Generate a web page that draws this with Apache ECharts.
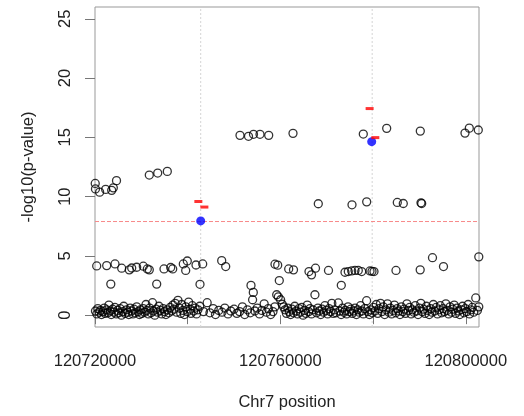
<!DOCTYPE html>
<html><head><meta charset="utf-8">
<script src="https://cdn.jsdelivr.net/npm/echarts@6/dist/echarts.min.js"></script>
<style>html,body{margin:0;padding:0;background:#fff}#c{width:524px;height:416px}</style>
</head><body><div id="c"></div>
<script>
// ---- data ----
const xTicks = [120720000, 120740000, 120760000, 120780000, 120800000];
const xTickLabels = [120720000, 120760000, 120800000];
const yTicks = [0, 5, 10, 15, 20, 25];
const snpPositions = [120742805, 120779800];
const thresholdLine = 7.9;

// upper cluster (positions, -log10 p)
const upperPos = [120720050,120720100,120721000,120722300,120723600,120723950,120724640,
  120731715,120733530,120735600,
  120751284,120753118,120754196,120755600,120757477,120762720,
  120777886,120782934,120790184,120799828,120800755,120802697,
  120768177,120775448,120778618,120785221,120786515,120790334,120790485];
const upperVal = [11.11,10.65,10.38,10.61,10.53,10.74,11.35,
  11.82,11.99,12.13,
  15.17,15.09,15.26,15.26,15.17,15.34,
  15.28,15.76,15.53,15.36,15.78,15.62,
  9.40,9.31,9.56,9.51,9.42,9.48,9.42];

// middle band (~4) and ~2.5 row
const midPos = [120720367,120722524,120724315,120725760,120727400,120727918,120728997,120730421,
  120731284,120731715,120734887,120736332,120736764,120739051,120739914,120739568,120741791,
  120743236,120747336,120748199,120758835,120759418,120761791,120762826,120766170,120766710,
  120767573,120770378,120773938,120774650,120775383,120776095,120776807,120777541,120779331,
  120779763,120780194,120784940,120790161,120792815,120795188,120802804,
  120723409,120733312,120742654,120753657,120754153,120759763,120773140];
const midVal = [4.15,4.18,4.32,3.96,3.82,3.98,4.04,4.13,
  3.90,3.82,3.90,4.02,3.90,4.32,4.57,3.77,4.23,
  4.32,4.60,4.10,4.30,4.22,3.90,3.82,3.68,3.40,
  3.96,3.77,3.62,3.68,3.73,3.77,3.77,3.68,3.73,
  3.70,3.68,3.77,3.82,4.85,4.10,4.92,
  2.62,2.62,2.60,2.51,1.92,2.92,2.52];

// bottom dense band
const lowPos = [120720100,120720400,120720600,120720900,120721200,120721400,120721700,120722000,120722200,120722500,
  120722800,120723000,120723300,120723500,120723800,120724100,120724300,120724600,120724900,120725100,
  120725400,120725700,120726000,120726200,120726500,120726800,120727100,120727300,120727600,120727900,
  120728200,120728400,120728700,120729000,120729300,120729600,120729800,120730100,120730400,120730700,
  120731000,120731200,120731500,120731800,120732100,120732400,120732600,120732900,120733200,120733500,
  120733800,120734100,120734400,120734700,120735000,120735300,120735600,120735900,120736200,120736500,
  120736800,120737000,120737300,120737600,120737900,120738200,120738500,120738700,120739000,120739300,
  120739600,120739900,120740200,120740500,120740700,120741000,120741300,120741600,120741900,120742200,
  120742600,120743400,120744200,120744800,120745500,120746000,120746700,120747400,120748000,120748700,
  120749300,120750000,120750600,120751200,120751800,120752300,120752900,120753500,120754000,120754500,
  120755000,120755500,120756000,120756500,120757000,120757400,120757900,120758400,120758800,120759200,
  120759550,120760050,120760400,120760700,120761000,120761300,120761600,120761900,120762200,120762500,
  120762800,120763100,120763400,120763700,120764000,120764300,120764600,120764900,120765200,120765500,
  120765800,120766100,120766400,120766700,120767000,120767450,120767800,120768100,120768400,120768700,
  120769000,120769300,120769600,120769900,120770200,120770500,120770800,120771100,120771400,120771700,
  120772000,120772500,120772800,120773100,120773400,120773700,120774000,120774300,120774600,120774900,
  120775200,120775500,120775800,120776100,120776400,120776700,120777000,120777300,120777600,120777900,
  120778200,120778600,120778900,120779200,120779500,120779800,120780100,120780400,120780700,120781000,
  120781300,120781600,120781900,120782200,120782500,120782800,120783100,120783400,120783700,120784000,
  120784300,120784600,120784900,120785200,120785500,120785800,120786100,120786400,120786700,120787000,
  120787300,120787600,120787900,120788200,120788500,120788800,120789100,120789400,120789700,120790000,
  120790300,120790600,120790900,120791200,120791500,120791800,120792100,120792400,120792700,120793000,
  120793300,120793600,120793900,120794200,120794500,120794800,120795100,120795400,120795700,120796000,
  120796300,120796600,120796900,120797200,120797500,120797800,120798100,120798400,120798700,120799000,
  120799300,120799600,120799900,120800200,120800500,120800800,120801100,120801400,120801700,120802150,
  120802500,120802800];
const lowVal = [0.35,0.10,0.55,0.25,0.40,0.05,0.30,0.60,0.15,0.45,
  0.20,0.85,0.35,0.05,0.50,0.25,0.65,0.10,0.40,0.20,
  0.55,0.00,0.30,0.75,0.15,0.45,0.25,0.05,0.60,0.35,
  0.10,0.50,0.20,0.70,0.30,0.05,0.45,0.15,0.55,0.25,
  0.90,0.40,0.10,0.60,0.20,1.05,0.35,0.00,0.50,0.25,
  0.75,0.40,0.10,0.55,0.30,0.05,0.45,0.20,0.65,0.35,
  0.85,0.50,1.00,0.25,1.25,0.60,0.15,0.90,0.40,0.05,
  0.70,0.30,1.10,0.50,0.15,0.80,0.35,0.60,0.10,0.45,
  0.75,0.30,1.05,0.20,0.55,0.05,0.40,0.25,0.60,0.10,
  0.35,0.50,0.15,0.30,0.70,0.05,0.45,0.20,1.30,0.35,
  0.60,0.10,0.40,0.95,0.25,0.55,0.05,0.30,0.70,1.72,
  1.55,1.30,0.92,0.70,0.45,0.15,0.60,0.30,0.05,0.50,
  0.20,0.75,0.35,0.10,0.55,0.25,0.65,0.00,0.40,0.15,
  0.85,0.30,0.55,0.10,0.45,1.72,0.20,0.60,0.35,0.05,
  0.50,0.25,0.80,0.40,0.10,0.55,0.30,1.00,0.15,0.45,
  0.20,1.03,0.35,0.05,0.60,0.25,0.40,0.10,0.70,0.30,
  0.50,0.15,0.35,0.60,0.05,0.45,0.25,0.80,0.35,0.10,
  0.55,1.22,0.30,0.05,0.45,0.20,0.65,0.35,0.90,0.15,
  0.55,1.00,0.30,0.70,0.05,0.45,0.95,0.25,0.60,0.10,
  0.40,0.85,0.20,0.55,0.35,0.05,0.70,0.30,0.50,0.15,
  0.95,0.40,0.65,0.10,0.45,0.25,0.80,0.35,0.05,0.60,
  1.00,0.30,0.50,0.15,0.75,0.40,0.05,0.55,0.25,0.90,
  0.35,0.65,0.10,0.45,0.80,0.20,0.55,0.30,0.95,0.40,
  0.10,0.70,0.25,0.50,0.85,0.15,0.60,0.35,0.05,0.45,
  0.75,0.20,0.55,0.30,0.90,0.10,0.45,0.65,0.25,1.45,
  0.40,0.70];

// highlighted SNPs (blue) and red markers
const bluePos = [120742805, 120779700];
const blueVal = [7.95, 14.64];
const redPos = [120742300, 120743600, 120779250, 120780480];
const redVal = [9.59, 9.12, 17.43, 14.98];

// ---- chart ----
const Y_MIN = -1, Y_MAX = 26, X_MIN = 120720000, X_MAX = 120802850;
const zip = (a, b) => a.map((v, i) => [v, b[i]]);
const font = 'Liberation Sans, Arial, sans-serif';
const openCircle = {
  type: 'scatter', symbol: 'circle', symbolSize: 8, clip: true, silent: true,
  itemStyle: { color: 'rgba(0,0,0,0)', borderColor: '#000', borderWidth: 1.3 }
};
const refLine = (pts, color, dash) => ({
  type: 'line', data: pts, silent: true, symbol: 'none', showSymbol: false, clip: true,
  color: color,
  lineStyle: { color: color, type: dash, width: 1 }, z: 1
});
const chart = echarts.init(document.getElementById('c'), null, { renderer: 'canvas' });
chart.setOption({
  animation: false,
  backgroundColor: '#fff',
  grid: { left: 95, right: 45, top: 7, bottom: 87, show: true, borderColor: '#999', borderWidth: 1, containLabel: false },
  xAxis: {
    type: 'value', min: X_MIN, max: X_MAX,
    name: 'Chr7 position', nameLocation: 'middle', nameGap: 67,
    nameTextStyle: { fontFamily: font, fontSize: 16.5, color: '#222' },
    axisLine: { show: false },
    splitLine: { show: false },
    axisTick: { show: true, length: 9, customValues: xTicks, lineStyle: { color: '#777' } },
    axisLabel: { customValues: xTickLabels, margin: 26, fontFamily: font, fontSize: 16.5, color: '#222', formatter: v => String(v) }
  },
  yAxis: {
    type: 'value', min: Y_MIN, max: Y_MAX,
    name: '-log10(p-value)', nameLocation: 'middle', nameGap: 58, nameRotate: 90,
    nameTextStyle: { fontFamily: font, fontSize: 16.5, color: '#222' },
    axisLine: { show: false },
    splitLine: { show: false },
    axisTick: { show: true, length: 10, customValues: yTicks, lineStyle: { color: '#777' } },
    axisLabel: { customValues: yTicks, rotate: 90, margin: 21, fontFamily: font, fontSize: 16.5, color: '#222' }
  },
  series: [
    refLine([[snpPositions[0], Y_MIN], [snpPositions[0], Y_MAX]], '#d4d4d4', [2, 2]),
    refLine([[snpPositions[1], Y_MIN], [snpPositions[1], Y_MAX]], '#d4d4d4', [2, 2]),
    refLine([[X_MIN, thresholdLine], [X_MAX, thresholdLine]], '#f78a8a', [4, 2]),
    Object.assign({}, openCircle, { data: zip(lowPos, lowVal) }),
    Object.assign({}, openCircle, { data: zip(midPos, midVal) }),
    Object.assign({}, openCircle, { data: zip(upperPos, upperVal) }),
    { type: 'scatter', symbol: 'circle', symbolSize: 9, silent: true, data: zip(bluePos, blueVal), itemStyle: { color: '#0000ff', borderWidth: 0 }, z: 3 },
    { type: 'scatter', symbol: 'rect', symbolSize: [8, 3], silent: true, data: zip(redPos, redVal), itemStyle: { color: '#ff0000', borderWidth: 0 }, z: 4 }
  ]
});
</script></body></html>
